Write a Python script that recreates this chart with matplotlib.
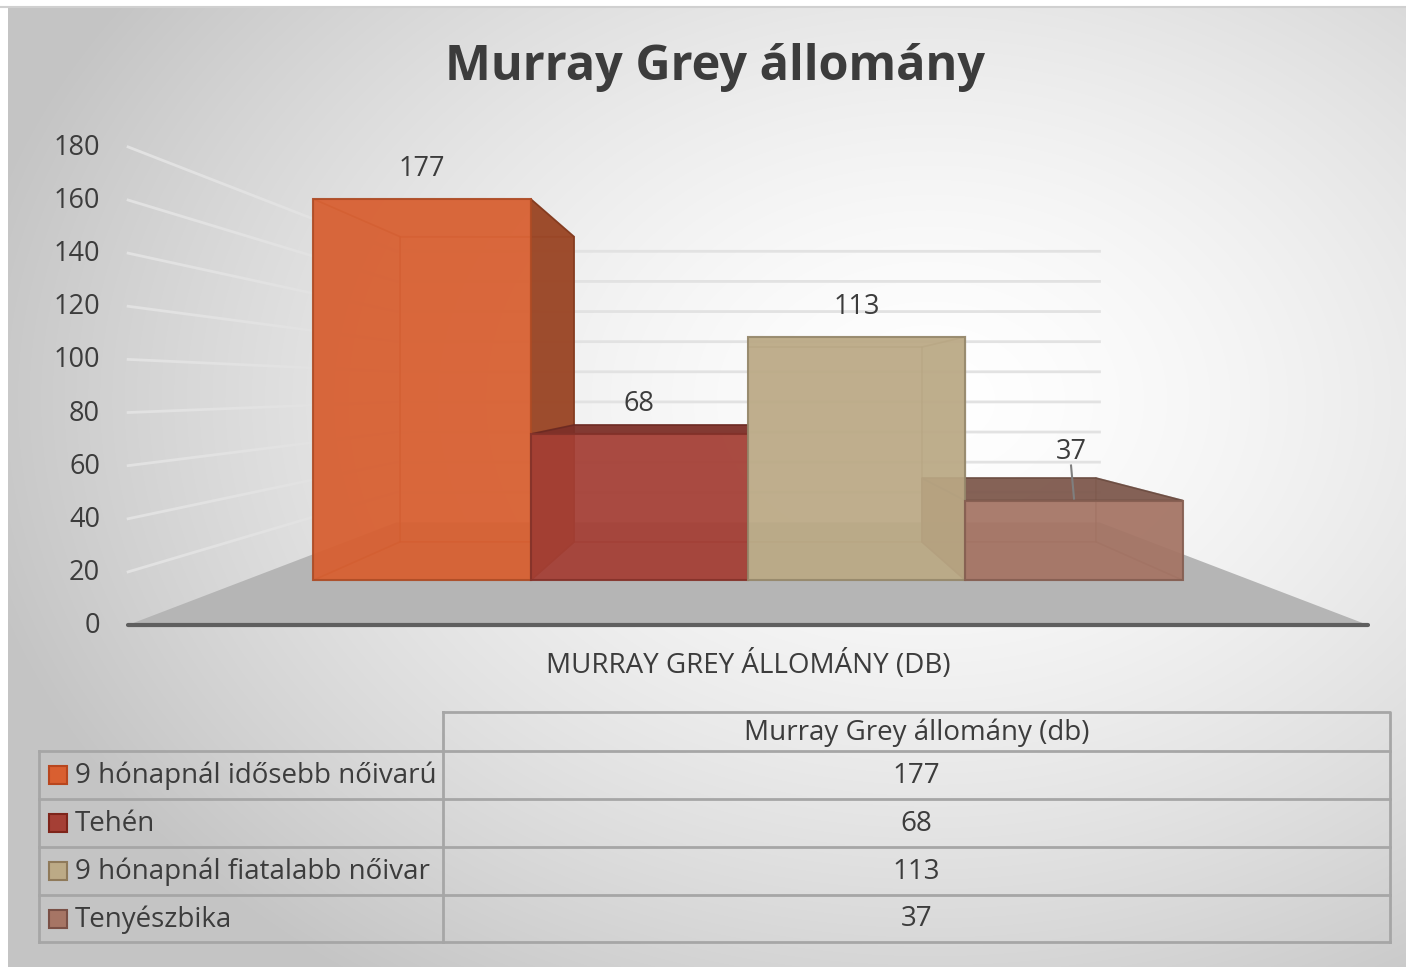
import numpy as np
import matplotlib.pyplot as plt
from matplotlib.patches import Polygon, Rectangle
from matplotlib.colors import to_rgb

title = 'Murray Grey állomány'
axis_title = 'MURRAY GREY ÁLLOMÁNY (DB)'
series_name = 'Murray Grey állomány (db)'
categories = ['9 hónapnál idősebb nőivarú', 'Tehén',
              '9 hónapnál fiatalabb nőivar', 'Tenyészbika']
values = [177, 68, 113, 37]
y_ticks = [0, 20, 40, 60, 80, 100, 120, 140, 160, 180]

bar_colors = ['#d95f30', '#a53f35', '#bcaa86', '#a67565']
key_edges = ['#b8461e', '#7e241a', '#8f7a5a', '#7a5046']

plt.rcParams['font.family'] = ['Open Sans', 'DejaVu Sans']
TXT = '#3c3c3c'

W, H = 1406, 967
fig = plt.figure(figsize=(W / 100, H / 100), dpi=100)
ax = fig.add_axes([0, 0, 1, 1])
ax.set_xlim(0, W)
ax.set_ylim(H, 0)
ax.axis('off')

# chart area background, radial grey -> white
yy, xx = np.mgrid[0:H, 0:W]
r = np.sqrt(((xx - 930) / 980.0) ** 2 + ((yy - 400) / 720.0) ** 2)
t = np.clip(r, 0, 1) ** 1.5
lo = np.array(to_rgb('#c4c4c4'))
bg = (1 - t)[..., None] * np.ones(3) + t[..., None] * lo
ax.imshow(bg[7:, 8:], extent=(8, W, H, 7), zorder=0, interpolation='bilinear')
ax.plot([0, W], [7, 7], color='#d0d0d0', lw=1.5, zorder=1)

# simple one-point perspective
VPX, VPY = 748, 388
CX, CW = 748, 268
Y0, K = 625, 2.656
S_BAR_F, S_BAR_B, S_WALL = 0.811, 0.649, 0.567
n = len(values)
FX0, FX1 = -0.313, n + 0.313


def proj(c, v, s):
    X = CX + (c - n / 2) * CW
    Y = Y0 - K * v
    return (VPX + s * (X - VPX), VPY + s * (Y - VPY))


def shade(col, f):
    return tuple(np.array(to_rgb(col)) * f)


# floor
floor = [proj(FX0, 0, 1), proj(FX1, 0, 1), proj(FX1, 0, S_WALL), proj(FX0, 0, S_WALL)]
ax.add_patch(Polygon(floor, closed=True, fc='#b5b5b5', ec='none', zorder=2))

# gridlines on the side wall and the back wall
for v in y_ticks[1:]:
    a = proj(FX0, v, 1)
    b = proj(FX0, v, S_WALL)
    c = proj(FX1, v, S_WALL)
    ax.plot([a[0], b[0], c[0]], [a[1], b[1], c[1]], color='#e2e2e2', lw=2, zorder=3)

ax.plot([proj(FX0, 0, 1)[0], proj(FX1, 0, 1)[0]], [Y0, Y0], color='#5f5f5f',
        lw=3, solid_capstyle='round', zorder=4)

# y tick labels
for v in y_ticks:
    ax.text(100, Y0 - K * v + 1, str(v), ha='right', va='center', fontsize=19.5, color=TXT)


def box_faces(i, v):
    f = [proj(i, 0, S_BAR_F), proj(i + 1, 0, S_BAR_F), proj(i + 1, v, S_BAR_F), proj(i, v, S_BAR_F)]
    b = [proj(i, 0, S_BAR_B), proj(i + 1, 0, S_BAR_B), proj(i + 1, v, S_BAR_B), proj(i, v, S_BAR_B)]
    left = [f[0], b[0], b[3], f[3]]
    right = [f[1], b[1], b[2], f[2]]
    top = [f[3], f[2], b[2], b[3]]
    bottom = [f[0], f[1], b[1], b[0]]
    return f, b, left, right, top, bottom


hidden, visible, fronts = [], [], []
for i, (v, col) in enumerate(zip(values, bar_colors)):
    f, b, left, right, top, bottom = box_faces(i, v)
    hidden.append((b, shade(col, 0.9)))
    hidden.append((bottom, shade(col, 0.9)))
    if f[0][0] > VPX + 1:
        visible.append((left, shade(col, 0.75)))
    else:
        hidden.append((left, shade(col, 0.8)))
    if f[1][0] < VPX - 1:
        visible.append((right, shade(col, 0.7)))
    else:
        hidden.append((right, shade(col, 0.8)))
    if f[3][1] > VPY:
        visible.append((top, shade(col, 0.76)))
    else:
        hidden.append((top, shade(col, 0.85)))
    fronts.append((f, col))

for poly, col in hidden:
    ax.add_patch(Polygon(poly, closed=True, fc=col, alpha=0.35, ec=shade(col, 0.8),
                         lw=1.2, zorder=5))
for poly, col in visible:
    ax.add_patch(Polygon(poly, closed=True, fc=col, alpha=0.92, ec=shade(col, 0.85),
                         lw=1.2, zorder=6))
for poly, col in fronts:
    ax.add_patch(Polygon(poly, closed=True, fc=col, alpha=0.9, ec=shade(col, 0.8),
                         lw=1.5, zorder=7))

# data labels
label_gap = [30, 30, 30, 49]
for i, v in enumerate(values):
    x, y = proj(i + 0.5, v, S_BAR_F)
    ly = y - label_gap[i]
    ax.text(x - (3 if label_gap[i] > 40 else 0), ly, str(v), ha='center', va='center',
            fontsize=19.5, color=TXT, zorder=9)
    if label_gap[i] > 40:
        ax.plot([x - 3, x], [ly + 14, y - 2], color='#7f7f7f', lw=1.5, zorder=9)

# titles
ax.text(715, 68, title, ha='center', va='center', fontsize=35, fontweight='bold', color=TXT)
ax.text(748, 665, axis_title, ha='center', va='center', fontsize=20, color=TXT)

# data table
TL, TM, TR = 39, 443, 1390
row_edges = [751, 799, 847, 895, 942]
GRID = '#a6a6a6'
ax.plot([TM, TR, TR], [712, 712, row_edges[-1]], color=GRID, lw=2, zorder=8)
ax.plot([TM, TM], [712, row_edges[-1]], color=GRID, lw=2, zorder=8)
ax.plot([TL, TL], [row_edges[0], row_edges[-1]], color=GRID, lw=2, zorder=8)
for ye in row_edges:
    ax.plot([TL, TR], [ye, ye], color=GRID, lw=2, zorder=8)
ax.text((TM + TR) / 2, 733, series_name, ha='center', va='center', fontsize=20, color=TXT)
for k, (cat, v) in enumerate(zip(categories, values)):
    yc = (row_edges[k] + row_edges[k + 1]) / 2
    ax.add_patch(Rectangle((49, yc - 9), 18, 18, fc=bar_colors[k], ec=key_edges[k],
                           lw=1.5, zorder=9))
    ax.text(75, yc + 1, cat, ha='left', va='center', fontsize=20, color=TXT)
    ax.text((TM + TR) / 2, yc + 1, str(v), ha='center', va='center', fontsize=20, color=TXT)

fig.savefig('out.png', dpi=100)
